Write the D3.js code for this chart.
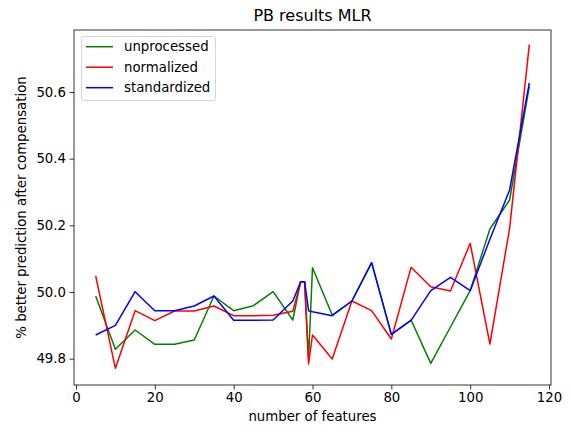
<!DOCTYPE html>
<html>
<head>
<meta charset="utf-8">
<script src="https://cdn.jsdelivr.net/npm/d3@7"></script>
<style>
  body { margin: 0; background: #fff; }
  svg { display: block; font-family: "DejaVu Sans", sans-serif; }
</style>
</head>
<body>
<div id="chart"></div>
<script>
// data
const features = [5, 10, 15, 20, 25, 30, 35, 40, 45, 50, 55, 57, 58, 59, 60, 65, 70, 75, 80, 85, 90, 95, 100, 105, 110, 115]
const unprocessed = [49.988, 49.828, 49.886, 49.843, 49.843, 49.856, 49.988, 49.944, 49.959, 50.001, 49.916, 50.031, 50.031, 49.800, 50.073, 49.931, 49.973, 50.088, 49.873, 49.916, 49.786, 49.895, 50.004, 50.189, 50.276, 50.617]
const normalized = [50.048, 49.771, 49.944, 49.914, 49.943, 49.943, 49.958, 49.929, 49.929, 49.930, 49.942, 50.031, 50.031, 49.784, 49.871, 49.799, 49.973, 49.944, 49.859, 50.074, 50.016, 50.003, 50.146, 49.844, 50.191, 50.742]
const standardized = [49.871, 49.900, 50.001, 49.944, 49.944, 49.958, 49.988, 49.915, 49.915, 49.916, 49.973, 50.031, 50.031, 49.944, 49.941, 49.929, 49.973, 50.088, 49.873, 49.915, 50.004, 50.044, 50.004, 50.158, 50.306, 50.627]
const xTicks = [0, 20, 40, 60, 80, 100, 120]
const yTicks = [49.8, 50.0, 50.2, 50.4, 50.6]

const series = [
  { name: 'unprocessed', values: unprocessed, color: '#008000' },
  { name: 'normalized', values: normalized, color: '#ff0000' },
  { name: 'standardized', values: standardized, color: '#0000ff' }
]

const width = 571
const height = 432
const plotLeft = 74, plotRight = 551, plotTop = 30, plotBottom = 385

const x = d3.scaleLinear().domain([-0.5, 120.5]).range([plotLeft, plotRight])
const y = d3.scaleLinear().domain([49.721, 50.786]).range([plotBottom, plotTop])

const svg = d3.select('#chart')
  .append('svg')
  .attr('width', width)
  .attr('height', height)

// lines
const line = d3.line()
  .x((d, i) => x(features[i]))
  .y((d) => y(d))

svg.append('g')
  .selectAll('path')
  .data(series)
  .enter()
  .append('path')
  .attr('fill', 'none')
  .attr('stroke', (d) => d.color)
  .attr('stroke-width', 1.5)
  .attr('stroke-linejoin', 'round')
  .attr('d', (d) => line(d.values))

// axes
const xAxis = svg.append('g')
  .attr('transform', 'translate(0,' + plotBottom + ')')
  .call(d3.axisBottom(x).tickValues(xTicks).tickFormat(d3.format('d')).tickSize(4.5).tickPadding(3.5))
const yAxis = svg.append('g')
  .attr('transform', 'translate(' + plotLeft + ',0)')
  .call(d3.axisLeft(y).tickValues(yTicks).tickFormat(d3.format('.1f')).tickSize(4.5).tickPadding(3.5))

for (const ax of [xAxis, yAxis]) {
  ax.select('.domain').remove()
  ax.selectAll('.tick line').attr('stroke', '#000').attr('stroke-width', 0.8)
  ax.selectAll('.tick text')
    .attr('fill', '#000')
    .style('font-size', '13.3px')
    .style('font-family', '"DejaVu Sans", sans-serif')
}

// frame
svg.append('rect')
  .attr('x', plotLeft)
  .attr('y', plotTop)
  .attr('width', plotRight - plotLeft)
  .attr('height', plotBottom - plotTop)
  .attr('fill', 'none')
  .attr('stroke', '#000')
  .attr('stroke-width', 0.8)

// title and labels
svg.append('text')
  .attr('x', (plotLeft + plotRight) / 2)
  .attr('y', 21)
  .attr('text-anchor', 'middle')
  .style('font-size', '16px')
  .text('PB results MLR')

svg.append('text')
  .attr('x', (plotLeft + plotRight) / 2)
  .attr('y', 421)
  .attr('text-anchor', 'middle')
  .style('font-size', '13.3px')
  .text('number of features')

svg.append('text')
  .attr('transform', 'translate(26,' + (plotTop + plotBottom) / 2 + ')rotate(-90)')
  .attr('text-anchor', 'middle')
  .style('font-size', '13.3px')
  .text('% better prediction after compensation')

// legend
const legend = svg.append('g')
legend.append('rect')
  .attr('x', 81.5)
  .attr('y', 36.5)
  .attr('width', 134)
  .attr('height', 64)
  .attr('rx', 2.5)
  .attr('fill', '#fff')
  .attr('fill-opacity', 0.8)
  .attr('stroke', '#d6d6d6')
  .attr('stroke-width', 1)

const items = legend.selectAll('g.item')
  .data(series)
  .enter()
  .append('g')
  .attr('transform', (d, i) => 'translate(0,' + (46.7 + i * 20.5) + ')')
items.append('line')
  .attr('x1', 86)
  .attr('x2', 113)
  .attr('stroke', (d) => d.color)
  .attr('stroke-width', 1.5)
items.append('text')
  .attr('x', 124)
  .attr('y', 4.6)
  .style('font-size', '13.3px')
  .text((d) => d.name)
</script>
</body>
</html>
